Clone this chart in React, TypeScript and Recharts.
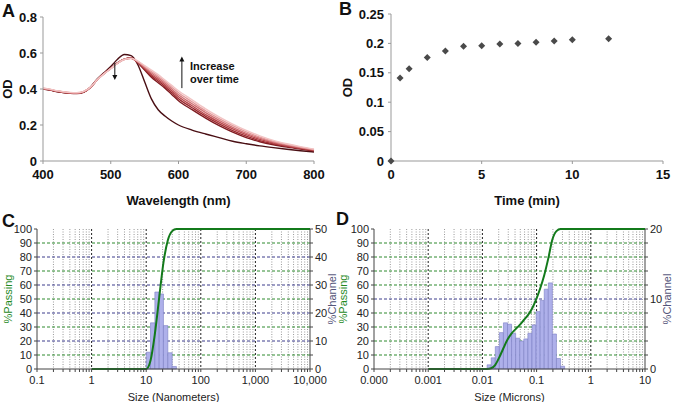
import React from "react";
import {
  LineChart,
  Line,
  XAxis,
  YAxis,
  ScatterChart,
  Scatter,
  ComposedChart,
  CartesianGrid,
  ReferenceLine,
  ReferenceArea,
  ReferenceDot,
  Label,
} from "recharts";

const FONT = "'Liberation Sans', Arial, Helvetica, sans-serif";

// ---- panel A: absorbance spectra ----
const wavelengths = [400, 410, 420, 430, 440, 450, 460, 470, 480, 490, 500, 510, 520, 530, 540, 550, 560, 570, 580, 590, 600, 620, 640, 660, 680, 700, 720, 740, 760, 780, 800];
const odT0 = [0.4, 0.395, 0.386, 0.38, 0.377, 0.376, 0.384, 0.41, 0.455, 0.49, 0.525, 0.565, 0.592, 0.585, 0.535, 0.44, 0.345, 0.285, 0.25, 0.222, 0.2, 0.172, 0.15, 0.13, 0.11, 0.096, 0.084, 0.074, 0.065, 0.057, 0.05];
const odC1 = [0.4, 0.394, 0.386, 0.38, 0.376, 0.375, 0.382, 0.408, 0.452, 0.486, 0.515, 0.545, 0.566, 0.572, 0.545, 0.505, 0.465, 0.435, 0.405, 0.37, 0.335, 0.285, 0.238, 0.196, 0.16, 0.13, 0.107, 0.09, 0.077, 0.066, 0.056];
const odC2 = [0.401, 0.395, 0.387, 0.381, 0.377, 0.376, 0.383, 0.408, 0.452, 0.486, 0.515, 0.545, 0.566, 0.572, 0.547, 0.51, 0.473, 0.444, 0.414, 0.38, 0.346, 0.296, 0.248, 0.206, 0.169, 0.138, 0.113, 0.095, 0.081, 0.069, 0.058];
const odC3 = [0.402, 0.396, 0.388, 0.382, 0.378, 0.377, 0.384, 0.409, 0.452, 0.485, 0.514, 0.544, 0.565, 0.571, 0.549, 0.515, 0.481, 0.453, 0.423, 0.39, 0.357, 0.307, 0.258, 0.216, 0.178, 0.146, 0.12, 0.1, 0.085, 0.072, 0.06];
const odC4 = [0.403, 0.397, 0.389, 0.383, 0.379, 0.378, 0.385, 0.409, 0.451, 0.485, 0.514, 0.544, 0.565, 0.571, 0.551, 0.52, 0.489, 0.462, 0.432, 0.4, 0.368, 0.318, 0.269, 0.226, 0.187, 0.154, 0.127, 0.105, 0.088, 0.074, 0.062];
const odC5 = [0.404, 0.398, 0.39, 0.384, 0.38, 0.379, 0.386, 0.41, 0.451, 0.484, 0.513, 0.543, 0.564, 0.57, 0.553, 0.525, 0.497, 0.471, 0.441, 0.41, 0.379, 0.329, 0.279, 0.235, 0.196, 0.162, 0.133, 0.11, 0.092, 0.077, 0.064];
const odC6 = [0.405, 0.399, 0.391, 0.385, 0.381, 0.38, 0.387, 0.41, 0.451, 0.484, 0.513, 0.543, 0.564, 0.57, 0.555, 0.53, 0.505, 0.48, 0.45, 0.42, 0.39, 0.34, 0.29, 0.245, 0.205, 0.17, 0.14, 0.115, 0.096, 0.08, 0.066];
const aTicksX = [400, 500, 600, 700, 800];
const aTicksY = [0, 0.1, 0.2, 0.3, 0.4, 0.5, 0.6, 0.7, 0.8];

// ---- panel B: OD vs time ----
const timeMin = [0, 0.5, 1, 2, 3, 4, 5, 6, 7, 8, 9, 10, 12];
const odTime = [0, 0.141, 0.157, 0.176, 0.187, 0.195, 0.196, 0.199, 0.2, 0.202, 0.204, 0.206, 0.208];
const bTicksX = [0, 5, 10, 15];
const bTicksY = [0, 0.05, 0.1, 0.15, 0.2, 0.25];

// ---- panel C: size distribution (nm) ----
const cMajors = [0.1, 1, 10, 100, 1000, 10000];
const cMajorLabels = ["0.1", "1", "10", "100", "1,000", "10,000"];
const cEdges = [10, 12, 14.4, 17.3, 20.7, 24.9, 29.9, 35.8];
const cChannel = [6, 16.5, 27.5, 26.8, 15.5, 5.8, 0.9];
const cPassX = [1, 10, 12, 14.4, 17.3, 20.7, 24.9, 29.9, 35.8, 10000];
const cPass = [0, 0, 6, 25, 51, 76, 92, 98.5, 100, 100];

// ---- panel D: size distribution (microns) ----
const dMajors = [0.0001, 0.001, 0.01, 0.1, 1, 10];
const dMajorLabels = ["0.000", "0.001", "0.01", "0.1", "1", "10"];
const dEdges = [0.01223, 0.01454, 0.01729, 0.02056, 0.02445, 0.02908, 0.03458, 0.04112, 0.0489, 0.05815, 0.06915, 0.08223, 0.09779, 0.1163, 0.1383, 0.1644, 0.1955, 0.2325, 0.2765, 0.3289];
const dChannel = [0.6, 1.6, 3.2, 5.2, 6.6, 6.4, 5.1, 4.4, 4.0, 4.3, 5.1, 6.3, 8.2, 9.8, 11.4, 12.3, 5.0, 1.5, 0.4];
const dPassX = [0.001, 0.0122, 0.0145, 0.0173, 0.0206, 0.0245, 0.0291, 0.0346, 0.0411, 0.0489, 0.0582, 0.0692, 0.0822, 0.0978, 0.1163, 0.1383, 0.1644, 0.1955, 0.2325, 0.2765, 10];
const dPass = [0, 0, 0.5, 3, 8.5, 15, 21, 25.5, 28.5, 31.5, 35, 38.5, 43, 49.5, 57.5, 67, 79, 92.5, 98.5, 100, 100];

const spectra = wavelengths.map((w, i) => ({
  w,
  t0: odT0[i],
  c1: odC1[i],
  c2: odC2[i],
  c3: odC3[i],
  c4: odC4[i],
  c5: odC5[i],
  c6: odC6[i],
}));

// darkest first so the pale late curves sit on top
const spectraSeries = [
  { key: "t0", color: "#4a0f14" },
  { key: "c1", color: "#7e1b20" },
  { key: "c2", color: "#9c2b30" },
  { key: "c3", color: "#b9494d" },
  { key: "c4", color: "#cf7073" },
  { key: "c5", color: "#e39a9b" },
  { key: "c6", color: "#f2c4c4" },
];

const timeData = timeMin.map((t, i) => ({ t, od: odTime[i] }));

const boldTick = { fill: "#111", fontSize: 13, fontWeight: 700, fontFamily: FONT };
const smallTick = { fill: "#222", fontSize: 11, fontFamily: FONT };

function Arrowhead(props: any) {
  const { cx, cy, dir } = props;
  const d = dir === "up" ? `M${cx - 2.5},${cy + 4}L${cx + 2.5},${cy + 4}L${cx},${cy - 1}Z` : `M${cx - 2.5},${cy - 4}L${cx + 2.5},${cy - 4}L${cx},${cy + 1}Z`;
  return <path d={d} fill="#111" />;
}

function Note(props: any) {
  return (
    <text x={props.cx} y={props.cy} fontSize={11} fontWeight={700} fontFamily={FONT} fill="#111" dominantBaseline="middle">
      {props.text}
    </text>
  );
}

function PanelA() {
  return (
    <LineChart width={330} height={208} data={spectra} margin={{ top: 17, right: 16, left: 0, bottom: 0 }}>
      <XAxis dataKey="w" type="number" domain={[400, 800]} ticks={aTicksX} stroke="#999" tick={boldTick} tickSize={3} tickMargin={6} height={47}>
        <Label value="Wavelength (nm)" position="insideBottom" offset={3} fontSize={13} fontWeight={700} fill="#111" fontFamily={FONT} />
      </XAxis>
      <YAxis type="number" domain={[0, 0.8]} ticks={aTicksY} stroke="#999" tick={boldTick} tickSize={3} tickMargin={3} width={43}>
        <Label value="OD" angle={-90} position="center" dx={-14} fontSize={13} fontWeight={700} fill="#111" fontFamily={FONT} />
      </YAxis>
      {spectraSeries.map((s) => (
        <Line key={s.key} dataKey={s.key} type="monotone" stroke={s.color} strokeWidth={1.4} dot={false} isAnimationActive={false} />
      ))}
      <ReferenceLine segment={[{ x: 506, y: 0.545 }, { x: 506, y: 0.47 }]} stroke="#111" strokeWidth={1} />
      <ReferenceDot x={506} y={0.455} shape={(p: any) => <Arrowhead {...p} dir="down" />} />
      <ReferenceLine segment={[{ x: 605, y: 0.405 }, { x: 605, y: 0.56 }]} stroke="#111" strokeWidth={1} />
      <ReferenceDot x={605} y={0.575} shape={(p: any) => <Arrowhead {...p} dir="up" />} />
      <ReferenceDot x={617} y={0.522} shape={(p: any) => <Note {...p} text="Increase" />} />
      <ReferenceDot x={617} y={0.45} shape={(p: any) => <Note {...p} text="over time" />} />
    </LineChart>
  );
}

function Diamond(props: any) {
  const { cx, cy } = props;
  return <path d={`M${cx},${cy - 3.5}L${cx + 3.5},${cy}L${cx},${cy + 3.5}L${cx - 3.5},${cy}Z`} fill="#4a4a4a" />;
}

function PanelB() {
  return (
    <ScatterChart width={335} height={208} margin={{ top: 14, right: 12, left: 0, bottom: 0 }}>
      <XAxis dataKey="t" type="number" domain={[0, 15]} ticks={bTicksX} stroke="#999" tick={boldTick} tickSize={3} tickMargin={6} height={47}>
        <Label value="Time (min)" position="insideBottom" offset={3} fontSize={13} fontWeight={700} fill="#111" fontFamily={FONT} />
      </XAxis>
      <YAxis dataKey="od" type="number" domain={[0, 0.25]} ticks={bTicksY} stroke="#999" tick={boldTick} tickSize={3} tickMargin={4} width={51}>
        <Label value="OD" angle={-90} position="center" dx={-18} fontSize={13} fontWeight={700} fill="#111" fontFamily={FONT} />
      </YAxis>
      <Scatter data={timeData} shape={<Diamond />} isAnimationActive={false} />
    </ScatterChart>
  );
}

function logMinors(from: number, decades: number) {
  const out: number[] = [];
  for (let d = 0; d < decades; d++) {
    for (const k of [2, 3, 4, 5, 6, 7, 8, 9]) out.push(+(from * Math.pow(10, d) * k).toPrecision(6));
  }
  return out;
}

function PsdChart(props: any) {
  const { width, majors, majorLabels, edges, channel, passX, pass, rightMax, rightTicks, rightShown, greenAt, navyAt, xTitle, leftW, rightW, chDx } = props;
  const minors = logMinors(majors[0], majors.length - 1);
  const allTicks = [...majors, ...minors].sort((a, b) => a - b);
  const passData = passX.map((x: number, i: number) => ({ x, p: pass[i] }));
  const fmtX = (v: number) => {
    const i = majors.findIndex((m: number) => Math.abs(m - v) / m < 1e-6);
    return i >= 0 ? majorLabels[i] : "";
  };
  return (
    <ComposedChart width={width} height={192} data={passData} margin={{ top: 19, right: 0, left: 0, bottom: 0 }}>
      <CartesianGrid horizontal={false} verticalValues={minors} stroke="#9a9a9a" strokeDasharray="1 1.5" yAxisId="left" />
      <CartesianGrid horizontal={false} verticalValues={majors.slice(1, -1)} stroke="#222" strokeDasharray="2 2" yAxisId="left" />
      <CartesianGrid vertical={false} horizontalValues={greenAt} stroke="#2f8a2f" strokeDasharray="3 2" yAxisId="left" />
      <CartesianGrid vertical={false} horizontalValues={navyAt} stroke="#3c3c8c" strokeDasharray="3 2" yAxisId="left" />
      <XAxis dataKey="x" type="number" scale="log" domain={[majors[0], majors[majors.length - 1]]} allowDataOverflow ticks={allTicks} interval={0} tickFormatter={fmtX} stroke="#444" tick={smallTick} tickSize={3} tickMargin={4} height={33}>
        <Label value={xTitle} position="insideBottom" offset={1} fontSize={11} fill="#222" fontFamily={FONT} />
      </XAxis>
      <YAxis yAxisId="left" type="number" domain={[0, 100]} ticks={[0, 10, 20, 30, 40, 50, 60, 70, 80, 90, 100]} interval={0} stroke="#444" tick={smallTick} tickSize={3} tickMargin={2} width={leftW}>
        <Label value="%Passing" angle={-90} position="center" dx={-(leftW / 2) + 8} fontSize={11} fill="#1f8a1f" fontFamily={FONT} />
      </YAxis>
      <YAxis yAxisId="right" orientation="right" type="number" domain={[0, rightMax]} allowDataOverflow ticks={rightTicks} interval={0} tickFormatter={(v: number) => (rightShown.includes(v) ? String(v) : "")} stroke="#444" tick={smallTick} tickSize={3} tickMargin={2} width={rightW}>
        <Label value="%Channel" angle={-90} position="center" dx={chDx} fontSize={11} fill="#55557a" fontFamily={FONT} />
      </YAxis>
      {/* carrier so the right axis gets data and draws */}
      <Line yAxisId="right" dataKey="p" stroke="none" dot={false} activeDot={false} legendType="none" isAnimationActive={false} />
      {channel.map((v: number, i: number) => (
        <ReferenceArea key={i} yAxisId="right" x1={edges[i]} x2={edges[i + 1]} y1={0} y2={v} fill="#aeb0ea" fillOpacity={1} stroke="#7c7fc4" strokeWidth={0.6} ifOverflow="visible" />
      ))}
      <Line yAxisId="left" dataKey="p" type="monotone" stroke="#137a1b" strokeWidth={2} dot={false} isAnimationActive={false} />
    </ComposedChart>
  );
}

const letter: React.CSSProperties = { position: "absolute", fontSize: 18, fontWeight: 700, fontFamily: FONT, lineHeight: "18px", color: "#111" };

export default function App() {
  return (
    <div style={{ position: "absolute", left: 0, top: 0, width: 675, height: 402, background: "#fff", overflow: "hidden", fontFamily: FONT }}>
      <div style={{ position: "absolute", left: 0, top: 0 }}>
        <PanelA />
      </div>
      <div style={{ position: "absolute", left: 340, top: 0 }}>
        <PanelB />
      </div>
      <div style={{ position: "absolute", left: 0, top: 210 }}>
        <PsdChart width={345} majors={cMajors} majorLabels={cMajorLabels} edges={cEdges} channel={cChannel} passX={cPassX} pass={cPass} rightMax={50} rightTicks={[0, 5, 10, 15, 20, 25, 30, 35, 40, 45, 50]} rightShown={[0, 10, 20, 30, 40, 50]} greenAt={[10, 30, 50, 70, 90]} navyAt={[20, 40, 60, 80]} xTitle="Size (Nanometers)" leftW={37} rightW={35} chDx={5} />
      </div>
      <div style={{ position: "absolute", left: 335, top: 210 }}>
        <PsdChart width={340} majors={dMajors} majorLabels={dMajorLabels} edges={dEdges} channel={dChannel} passX={dPassX} pass={dPass} rightMax={20} rightTicks={[0, 2, 4, 6, 8, 10, 12, 14, 16, 18, 20]} rightShown={[0, 10, 20]} greenAt={[10, 20, 30, 40, 60, 70, 80, 90]} navyAt={[50]} xTitle="Size (Microns)" leftW={39} rightW={30} chDx={7} />
      </div>
      <div style={{ ...letter, left: 2, top: 2 }}>A</div>
      <div style={{ ...letter, left: 339, top: 0 }}>B</div>
      <div style={{ ...letter, left: 2, top: 212 }}>C</div>
      <div style={{ ...letter, left: 336, top: 210 }}>D</div>
    </div>
  );
}
